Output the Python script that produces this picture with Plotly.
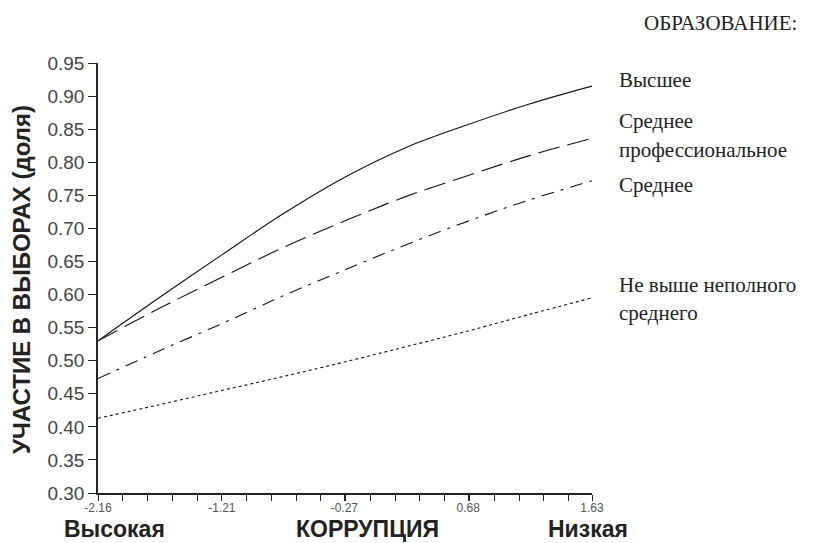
import plotly.graph_objects as go

x_vals = [-2.16, -1.70, -1.21, -0.74, -0.27, 0.20, 0.68, 1.15, 1.63]
vysshee = [0.530, 0.594, 0.660, 0.722, 0.777, 0.822, 0.857, 0.888, 0.915]
sred_prof = [0.530, 0.578, 0.626, 0.671, 0.711, 0.748, 0.780, 0.810, 0.836]
srednee = [0.473, 0.514, 0.556, 0.598, 0.637, 0.675, 0.711, 0.743, 0.772]
ne_vyshe = [0.413, 0.433, 0.455, 0.476, 0.498, 0.521, 0.545, 0.570, 0.595]

x_ticks = [-2.16, -1.21, -0.27, 0.68, 1.63]
y_ticks = [0.30, 0.35, 0.40, 0.45, 0.50, 0.55, 0.60, 0.65, 0.70, 0.75, 0.80, 0.85, 0.90, 0.95]

series = [
    ("Высшее", vysshee, "solid"),
    ("Среднее профессиональное", sred_prof, "22px,8px"),
    ("Среднее", srednee, "13px,7px,3px,7px"),
    ("Не выше неполного среднего", ne_vyshe, "3px,3px"),
]

fig = go.Figure()
for name, ys, dash in series:
    fig.add_trace(go.Scatter(x=x_vals, y=ys, mode="lines", name=name, line_shape="spline",
                             line=dict(color="#111111", width=1.1, dash=dash)))

fig.update_layout(
    width=809, height=535,
    margin=dict(l=90, r=225, t=55, b=50),
    paper_bgcolor="white", plot_bgcolor="white",
    showlegend=False,
    font=dict(family="Liberation Sans, Arial", color="#333333"),
)
fig.update_xaxes(
    range=[-2.16, 1.63], tickvals=x_ticks, ticktext=[f"{v:.2f}" for v in x_ticks],
    showgrid=False, zeroline=False, showline=True, linecolor="#222222", linewidth=1.5,
    ticks="outside", ticklen=6, tickcolor="#222222", tickwidth=1,
    tickfont=dict(size=12, color="#555555"), ticklabelstandoff=-3,
    minor=dict(ticks="outside", tick0=-2.16, dtick=0.19, ticklen=6, tickcolor="#222222", showgrid=False),
)
fig.update_yaxes(
    range=[0.30, 0.95], tickvals=y_ticks, ticktext=[f"{v:.2f}" for v in y_ticks],
    showgrid=False, zeroline=False, showline=True, linecolor="#222222", linewidth=1.5,
    ticks="outside", ticklen=8, tickcolor="#222222",
    tickfont=dict(size=19, color="#444444"),
)


def serif_font(size):
    return dict(family="Liberation Serif, Times New Roman, serif", size=size, color="#222222")


def bold_font(size):
    return dict(family="Liberation Sans", size=size, color="#222222", weight="bold")


# y-axis title
fig.add_annotation(text="УЧАСТИЕ В ВЫБОРАХ (доля)", xref="paper", yref="paper",
                   x=(21 - 98) / 494, y=1 - (280 - 63) / 430, textangle=-90, showarrow=False,
                   xanchor="center", yanchor="middle", font=bold_font(24))

labels = [
    ("Высшее", 80),
    ("Среднее", 121),
    ("профессиональное", 150),
    ("Среднее", 185),
    ("Не выше неполного", 285),
    ("среднего", 313),
]
for text, ypix in labels:
    fig.add_annotation(text=text, xref="paper", yref="paper", x=(617 - 98) / 494,
                       y=1 - (ypix - 63) / 430, showarrow=False,
                       xanchor="left", yanchor="middle", align="left", font=serif_font(21))
fig.add_annotation(text="ОБРАЗОВАНИЕ:", xref="paper", yref="paper", x=(720 - 98) / 494,
                   y=1 + (63 - 23) / 430, showarrow=False, xanchor="center", yanchor="middle",
                   font=serif_font(21))

for text, xpix in [("Высокая", 114), ("КОРРУПЦИЯ", 367), ("Низкая", 588)]:
    fig.add_annotation(text=text, xref="paper", yref="paper", x=(xpix - 98) / 494,
                       y=1 - (529 - 63) / 430, showarrow=False,
                       xanchor="center", yanchor="middle", font=bold_font(23))

fig.write_html("out.html")
